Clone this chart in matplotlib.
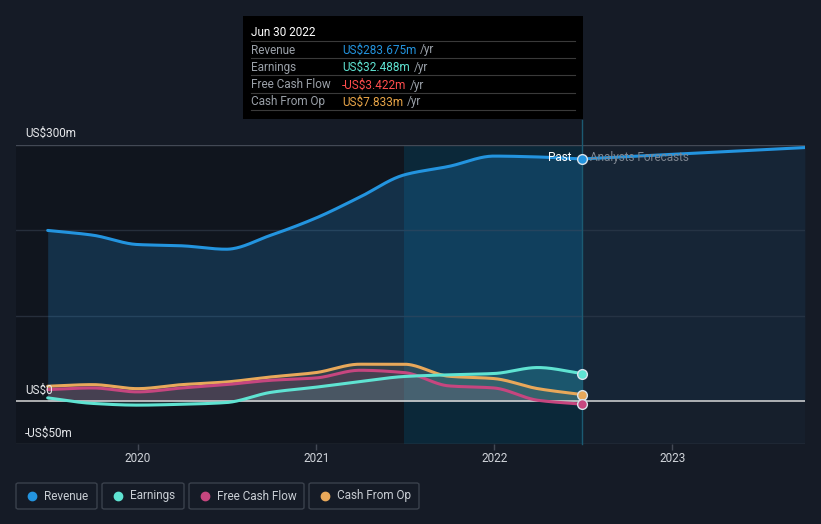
import numpy as np
import pandas as pd
import matplotlib
matplotlib.use("Agg")
import matplotlib.pyplot as plt
import matplotlib.dates as mdates
from matplotlib.patches import Rectangle, FancyBboxPatch

plt.rcParams['font.family'] = ['Roboto', 'DejaVu Sans']

# ---------------- data ----------------
past_dates = ["2019-06-30", "2019-09-30", "2019-12-31", "2020-03-31", "2020-06-30",
              "2020-09-30", "2020-12-31", "2021-03-31", "2021-06-30", "2021-09-30",
              "2021-12-31", "2022-03-31", "2022-06-30"]
revenue = [200, 194.5, 183.5, 182, 178, 194.5, 214.5, 239, 265, 275, 287, 286, 283.675]
earnings = [4, -2.5, -4.5, -3.5, -1.5, 10.5, 16.5, 23, 29, 31, 32.5, 39.5, 32.488]
free_cash_flow = [13.7, 15.6, 11, 15.6, 19.5, 24.6, 27.3, 36.3, 33.6, 18, 15.6, 1.2, -3.422]
cash_from_op = [17.6, 19.5, 14.8, 19.5, 22.6, 28.5, 33.6, 43.4, 43.4, 29.3, 26.6, 14.8, 7.833]

forecast_dates = ["2022-06-30", "2022-12-31", "2023-09-30"]
revenue_forecast = [283.675, 289.0, 297.0]

x_ticks = ["2020-01-01", "2021-01-01", "2022-01-01", "2023-01-01"]
x_tick_labels = ["2020", "2021", "2022", "2023"]
y_labels = ["US$300m", "US$0", "-US$50m"]

tooltip_title = "Jun 30 2022"
tooltip_rows = ["Revenue", "Earnings", "Free Cash Flow", "Cash From Op"]
tooltip_values = ["US$283.675m", "US$32.488m", "-US$3.422m", "US$7.833m"]
legend_labels = ["Revenue", "Earnings", "Free Cash Flow", "Cash From Op"]

# ---------------- styling ----------------
W, H = 821, 524
BG = "#151b26"
C_REV = "#2394df"
C_EAR = "#5fe3d2"
C_FCF = "#c6467f"
C_CFO = "#e8a85a"
VAL_COLORS = ["#2394df", "#5fe3d2", "#ff4d4d", "#eaa648"]


def smooth(xn, y, n=400):
    """Monotone cubic (PCHIP) for drawing a smooth curve through the data."""
    x = np.asarray(xn, float)
    y = np.asarray(y, float)
    h = np.diff(x)
    d = np.diff(y) / h
    m = np.zeros_like(y)
    for k in range(1, len(y) - 1):
        if d[k - 1] * d[k] > 0:
            w1 = 2 * h[k] + h[k - 1]
            w2 = h[k] + 2 * h[k - 1]
            m[k] = (w1 + w2) / (w1 / d[k - 1] + w2 / d[k])
    m[0] = d[0]
    m[-1] = d[-1]
    xs = np.linspace(x[0], x[-1], n)
    idx = np.clip(np.searchsorted(x, xs) - 1, 0, len(x) - 2)
    t = (xs - x[idx]) / h[idx]
    h00 = 2 * t**3 - 3 * t**2 + 1
    h10 = t**3 - 2 * t**2 + t
    h01 = -2 * t**3 + 3 * t**2
    h11 = t**3 - t**2
    ys = h00 * y[idx] + h10 * h[idx] * m[idx] + h01 * y[idx + 1] + h11 * h[idx] * m[idx + 1]
    return xs, ys


def px(x, y):
    return x / W, 1 - y / H


fig = plt.figure(figsize=(W / 100, H / 100), dpi=100, facecolor=BG)
ax = fig.add_axes([16 / W, (H - 444) / H, (805 - 16) / W, (444 - 145) / H])
ax.set_facecolor("#161f2c")

pd_past = mdates.date2num(pd.to_datetime(past_dates))
pd_fc = mdates.date2num(pd.to_datetime(forecast_dates))
xmin = mdates.date2num(pd.Timestamp("2019-04-26"))
xmax = mdates.date2num(pd.Timestamp("2023-09-30"))
t_hl0 = mdates.date2num(pd.Timestamp("2021-06-30"))
t_now = pd_past[-1]

ax.set_xlim(xmin, xmax)
ax.set_ylim(-50, 300)

# background regions
ax.axvspan(xmin, t_hl0, color="#10151e", zorder=0, lw=0)
ax.axvspan(t_hl0, t_now, color="#0b2839", zorder=0, lw=0)

# grid
for v, c in [(100, "#262e3b"), (200, "#262e3b"), (300, "#434955"), (-50, "#434955")]:
    ax.axhline(v, color=c, lw=1, zorder=1)

# revenue
xs, ys = smooth(pd_past, revenue)
ax.fill_between(xs, 0, ys, color=C_REV, alpha=0.22, lw=0, zorder=2)
ax.plot(xs, ys, color=C_REV, lw=2.2, zorder=6, solid_capstyle="round")
xf, yf = smooth(pd_fc, revenue_forecast)
ax.fill_between(xf, 0, yf, color=C_REV, alpha=0.06, lw=0, zorder=2)
ax.plot(xf, yf, color=C_REV, lw=2.2, zorder=6, solid_capstyle="round")

# other series
for series, col in [(cash_from_op, C_CFO), (free_cash_flow, C_FCF), (earnings, C_EAR)]:
    xs2, ys2 = smooth(pd_past, series)
    ax.fill_between(xs2, 0, ys2, color=col, alpha=0.14, lw=0, zorder=3)
    ax.plot(xs2, ys2, color=col, lw=2.2, zorder=5, solid_capstyle="round")

# zero line
ax.axhline(0, color="#d8d8d8", lw=1.1, zorder=4)

# now line
ax.plot([t_now, t_now], [-50, 329], color="#1b5a72", lw=1, zorder=4, clip_on=False)

# end markers
for val, col in [(revenue[-1], C_REV), (earnings[-1], C_EAR),
                 (cash_from_op[-1], C_CFO), (free_cash_flow[-1], C_FCF)]:
    ax.plot([t_now], [val], "o", ms=7, mfc=col, mec="#d9e2ea", mew=1.0, zorder=8, clip_on=False)

# Past / forecasts labels
ax.annotate("Past", xy=(t_now, revenue[-1]), xytext=(-8, 1), textcoords="offset points",
            ha="right", va="center", color="white", fontsize=8.5, zorder=9)
ax.annotate("Analysts Forecasts", xy=(t_now, revenue[-1]), xytext=(6, 1), textcoords="offset points",
            ha="left", va="center", color="#7d8590", fontsize=8.5, zorder=9)

# axes decoration
for s in ax.spines.values():
    s.set_visible(False)
ax.set_yticks([])
ax.set_xticks(mdates.date2num(pd.to_datetime(x_ticks)))
ax.set_xticklabels(x_tick_labels)
ax.tick_params(axis="x", colors="#434955", length=4, width=1, labelcolor="#d0d4da",
               labelsize=8.5, pad=2)

# y labels
for lab, yy in zip(y_labels, [133, 390, 433]):
    fig.text(*px(25, yy), lab, color="#e6e8eb", fontsize=8.5, ha="left", va="center")

# tooltip
fig.patches.append(Rectangle(px(243, 119), 340 / W, 103 / H, transform=fig.transFigure,
                             facecolor="#000000", edgecolor="none", zorder=10))
fig.text(*px(251, 32), tooltip_title, color="white", fontsize=8.5, ha="left", va="center", zorder=11)
row_y = [50, 67, 85, 102]
for sep in [41, 58, 75, 93, 110]:
    fig.lines.append(plt.Line2D([251 / W, 575 / W], [1 - sep / H, 1 - sep / H],
                                transform=fig.transFigure, color="#3a3a3a", lw=0.8, zorder=11))
for lab, val, col, yy in zip(tooltip_rows, tooltip_values, VAL_COLORS, row_y):
    fig.text(*px(251, yy), lab, color="#9aa0a8", fontsize=8.5, ha="left", va="center", zorder=11)
    fig.text(*px(342, yy), val, color=col, fontsize=8.5, ha="left", va="center", zorder=11)
fig.canvas.draw()
r = fig.canvas.get_renderer()
for txt in list(fig.texts):
    if txt.get_text() in tooltip_values:
        bb = txt.get_window_extent(r)
        fig.text((bb.x1 + 4) / W, txt.get_position()[1], "/yr", color="#9aa0a8",
                 fontsize=8.5, ha="left", va="center", zorder=11)

# legend
boxes = [(16, 97), (102, 184), (189, 304), (309, 419)]
leg_cols = [C_REV, C_EAR, C_FCF, C_CFO]
for (x0, x1), lab, col in zip(boxes, legend_labels, leg_cols):
    fig.patches.append(FancyBboxPatch(px(x0, 509), (x1 - x0) / W, 26 / H,
                                      boxstyle="round,pad=0,rounding_size=0.003",
                                      transform=fig.transFigure, facecolor="none",
                                      edgecolor="#3a414c", lw=1))
    fig.lines.append(plt.Line2D([(x0 + 16) / W], [1 - 496 / H], marker="o", ms=6,
                                mfc=col, mec=col, transform=fig.transFigure))
    fig.text(*px(x0 + 28, 496), lab, color="#c9ced4", fontsize=8.5, ha="left", va="center")

fig.savefig("out.png", dpi=100, facecolor=BG)
